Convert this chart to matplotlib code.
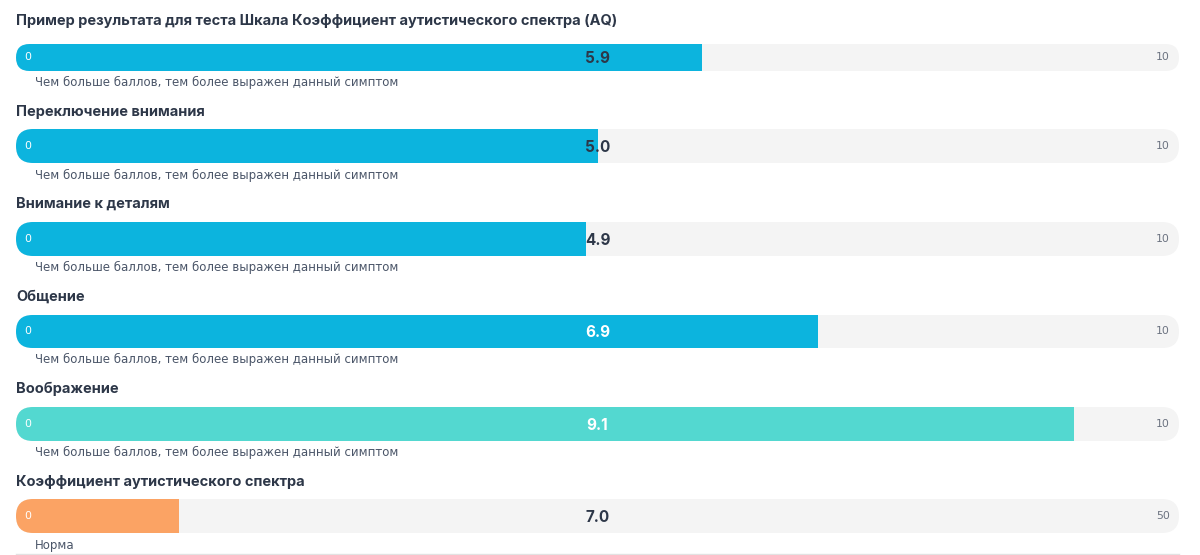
import matplotlib
matplotlib.use("Agg")
import matplotlib.pyplot as plt
from matplotlib.patches import FancyBboxPatch

plt.rcParams['font.family'] = ['Inter', 'DejaVu Sans']

titles = [
    "Пример результата для теста Шкала Коэффициент аутистического спектра (AQ)",
    "Переключение внимания",
    "Внимание к деталям",
    "Общение",
    "Воображение",
    "Коэффициент аутистического спектра",
]
values = [5.9, 5.0, 4.9, 6.9, 9.1, 7.0]
max_values = [10, 10, 10, 10, 10, 50]
notes = ["Чем больше баллов, тем более выражен данный симптом"] * 5 + ["Норма"]
bar_colors = ["#0cb4de", "#0cb4de", "#0cb4de", "#0cb4de", "#53d8d0", "#fba364"]
label_colors = ["#2d3748", "#2d3748", "#2d3748", "#ffffff", "#ffffff", "#2d3748"]

W, H = 1200, 555
fig = plt.figure(figsize=(W / 100, H / 100), dpi=100)
ax0 = fig.add_axes([0, 0, 1, 1])
ax0.set_xlim(0, W)
ax0.set_ylim(H, 0)
ax0.axis("off")

x0, x1 = 16, 1179
bar_tops = [44, 129, 222, 315, 407, 499]
bar_bots = [71, 163, 256, 348, 441, 533]
title_y = [21, 112, 204, 297, 389, 482]
note_y = [82, 175, 267, 359, 452, 545]

TITLE_C = "#2d3748"
NOTE_C = "#4a5568"

for i in range(len(values)):
    top, bot = bar_tops[i], bar_bots[i]
    h = bot - top
    ax0.text(x0, title_y[i], titles[i], fontsize=10.5, fontweight="bold",
             color=TITLE_C, va="center", ha="left")
    ax0.text(35, note_y[i], notes[i], fontsize=8.5, color=NOTE_C,
             va="center", ha="left", family="DejaVu Sans")
    clip = FancyBboxPatch((x0, top), x1 - x0, h,
                          boxstyle=f"round,pad=0,rounding_size={h/2}",
                          transform=ax0.transData, facecolor="none",
                          edgecolor="none")
    ax0.add_patch(clip)

    ax = fig.add_axes([x0 / W, 1 - bot / H, (x1 - x0) / W, h / H])
    ax.set_xlim(0, max_values[i])
    ax.set_ylim(0, 1)
    ax.axis("off")
    ax.patch.set_alpha(0)
    track = ax.barh([0.5], [max_values[i]], height=1.0, color="#f4f4f4",
                    linewidth=0)
    fill = ax.barh([0.5], [values[i]], height=1.0, color=bar_colors[i],
                   linewidth=0)
    for b in list(track) + list(fill):
        b.set_clip_path(clip)
    ax.text(max_values[i] / 2, 0.47, f"{values[i]:.1f}", fontsize=11,
            fontweight="bold", color=label_colors[i], ha="center",
            va="center")
    ax.text(max_values[i] * 0.0075, 0.5, "0", fontsize=7.8, color="#ffffff",
            ha="left", va="center", family="DejaVu Sans")
    ax.text(max_values[i] * 0.992, 0.5, str(max_values[i]), fontsize=7.8,
            color="#6b7280", ha="right", va="center", family="DejaVu Sans")

ax0.plot([x0, x1], [553.5, 553.5], color="#e2e2e2", linewidth=1)

fig.savefig("out.png", dpi=100)
